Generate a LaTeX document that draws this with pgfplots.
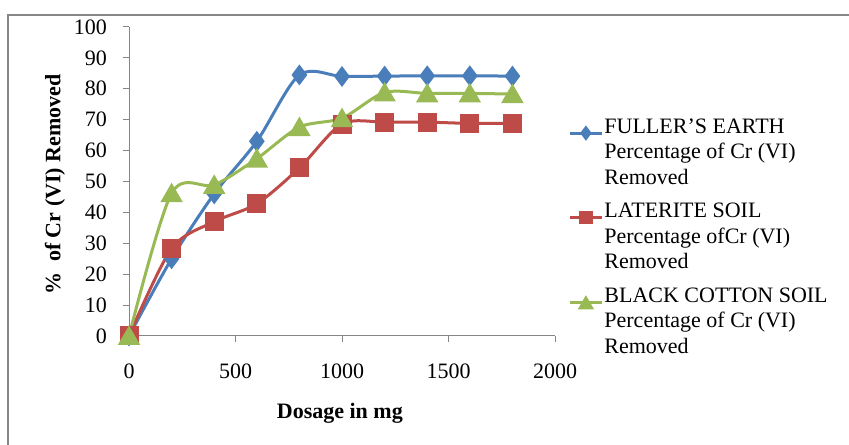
\documentclass[border=0pt]{standalone}
\usepackage{fontspec}
\setmainfont{Liberation Serif}
\usepackage{pgfplots}
\pgfplotsset{compat=1.18}
\definecolor{fblue}{HTML}{4A7EBB}
\definecolor{lred}{HTML}{BE4B48}
\definecolor{bgreen}{HTML}{98B954}
\definecolor{axgray}{HTML}{868686}
\begin{document}
\begin{tikzpicture}[x=1bp,y=1bp]
\useasboundingbox (0,0) rectangle (849,445);
\draw[axgray, line width=1.2bp] (8,-5) -- (8,430) -- (860,430);
\begin{axis}[
  at={(129bp,109bp)}, anchor=south west,
  scale only axis, width=426bp, height=309bp,
  xmin=0, xmax=2000, ymin=0, ymax=100,
  xtick={0,500,1000,1500,2000}, ytick={0,10,...,100},
  axis x line*=bottom, axis y line*=left,
  axis line style={axgray, line width=1bp, -},
  tick style={axgray, line width=1bp},
  major tick length=6bp,
  tick align=outside,
  font=\fontsize{22bp}{25.5bp}\selectfont,
  /pgf/number format/assume math mode=true,
  /pgf/number format/1000 sep={},
  xticklabel style={anchor=base, inner sep=0pt, yshift=-37bp},
  yticklabel style={anchor=east, inner sep=0pt, xshift=-16bp},
  xlabel={\textbf{Dosage in mg}},
  xlabel style={at={(axis description cs:0.495,-0.25)}, anchor=center},
  ylabel={\textbf{\%~~of Cr (VI) Removed}},
  ylabel style={at={(axis description cs:-0.174,0.49)}, anchor=center, rotate=0},
  clip=false,
  legend cell align=left,
  legend style={draw=none, fill=none, at={(axis description cs:1.031,0.715)}, anchor=north west,
    inner sep=0pt, row sep=61.5bp, column sep=1bp,
    nodes={inner sep=0pt, anchor=base west}},
  legend image code/.code={\draw[mark repeat=2,mark phase=2,#1,/tikz/every mark/.append style={scale=0.65}] plot coordinates {(0bp,0bp)(16bp,0bp)(32bp,0bp)};},
  every axis plot/.append style={line width=3bp, smooth, tension=0.5},
]
\addplot[color=fblue, mark=diamond*, mark size=8bp, mark options={solid, fill=fblue}]
  coordinates {(0,0)(200,25)(400,46)(600,63)(800,84.5)(1000,84.0)(1200,84.1)(1400,84.2)(1600,84.2)(1800,84.1)};
\addlegendentry{\begin{tabular}[t]{@{}l@{}}FULLER’S EARTH\\Percentage of Cr (VI)\\Removed\end{tabular}}
\addplot[color=lred, mark=square*, mark size=8bp, mark options={solid, fill=lred}]
  coordinates {(0,0)(200,28.3)(400,37)(600,42.8)(800,54.4)(1000,68.6)(1200,69.2)(1400,69.2)(1600,68.8)(1800,68.8)};
\addlegendentry{\begin{tabular}[t]{@{}l@{}}LATERITE SOIL\\Percentage ofCr (VI)\\Removed\end{tabular}}
\addplot[color=bgreen, mark=triangle*, mark size=10bp, mark options={solid, fill=bgreen, yshift=-2.5bp}]
  coordinates {(0,0)(200,46.2)(400,48.9)(600,57.4)(800,67.6)(1000,70.5)(1200,78.8)(1400,78.5)(1600,78.5)(1800,78.3)};
\addlegendentry{\begin{tabular}[t]{@{}l@{}}BLACK COTTON SOIL\\Percentage of Cr (VI)\\Removed\end{tabular}}
\end{axis}
\end{tikzpicture}
\end{document}
